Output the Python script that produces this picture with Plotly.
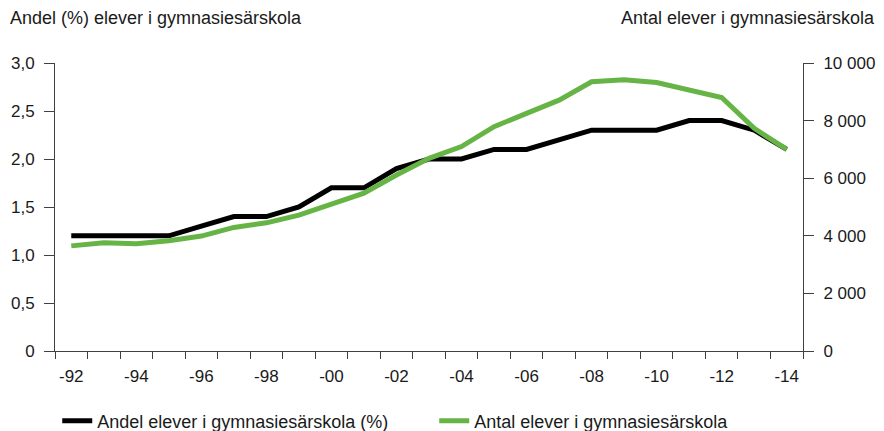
import plotly.graph_objs as go

years = list(range(1992, 2015))
andel = [1.2, 1.2, 1.2, 1.2, 1.3, 1.4, 1.4, 1.5, 1.7, 1.7, 1.9, 2.0,
         2.0, 2.1, 2.1, 2.2, 2.3, 2.3, 2.3, 2.4, 2.4, 2.3, 2.1]
antal = [3650, 3760, 3720, 3830, 3990, 4290, 4450, 4720, 5100, 5480, 6110, 6690,
         7100, 7790, 8250, 8710, 9350, 9420, 9320, 9060, 8800, 7730, 7000]

x_tick_years = list(range(1992, 2015, 2))
x_tick_labels = ['-92', '-94', '-96', '-98', '-00', '-02', '-04',
                 '-06', '-08', '-10', '-12', '-14']
left_ticks = [0, 0.5, 1.0, 1.5, 2.0, 2.5, 3.0]
left_labels = ['0', '0,5', '1,0', '1,5', '2,0', '2,5', '3,0']
right_ticks = [0, 2000, 4000, 6000, 8000, 10000]
right_labels = ['0', '2 000', '4 000', '6 000', '8 000', '10 000']

FONT = 'Liberation Sans'
FS = 17        # tick labels
FS_TEXT = 18   # titles and legend
AXIS_COLOR = '#404040'
TEXT_COLOR = '#1a1a1a'

fig = go.Figure()

fig.add_trace(go.Scatter(
    name='Andel elever i gymnasiesärskola (%)',
    x=years, y=andel, mode='lines', legend='legend',
    line={'color': '#000000', 'width': 5}))

fig.add_trace(go.Scatter(
    name='Antal elever i gymnasiesärskola',
    x=years, y=antal, mode='lines', yaxis='y2', legend='legend2',
    line={'color': '#66b445', 'width': 5}))

boundaries = [y - 0.5 for y in years] + [years[-1] + 0.5]

legend_style = {'yanchor': 'middle', 'xanchor': 'left', 'y': -0.243,
                'font': {'size': FS_TEXT}, 'bgcolor': 'rgba(0,0,0,0)',
                'itemwidth': 30}

# page body has an 8px margin, so the figure is 8px smaller than the window
fig.update_layout(
    width=876, height=423,
    margin={'l': 47, 'r': 81, 't': 55, 'b': 80, 'autoexpand': False},
    plot_bgcolor='white', paper_bgcolor='white',
    font={'family': FONT, 'size': FS, 'color': TEXT_COLOR},
    xaxis={
        'range': [1991.5, 2014.5],
        'tickvals': x_tick_years, 'ticktext': x_tick_labels,
        'ticks': '', 'ticklabelstandoff': 10,
        'showgrid': False, 'zeroline': False,
        'showline': True, 'linecolor': AXIS_COLOR, 'linewidth': 1,
        'minor': {'tickvals': boundaries, 'ticks': 'outside',
                  'ticklen': 7, 'tickcolor': AXIS_COLOR, 'showgrid': False},
        'tickfont': {'size': FS},
    },
    yaxis={
        'range': [0, 3.0],
        'tickvals': left_ticks, 'ticktext': left_labels,
        'ticks': 'outside', 'ticklen': 10, 'tickcolor': AXIS_COLOR,
        'ticklabelstandoff': 6,
        'showgrid': False, 'zeroline': False,
        'showline': True, 'linecolor': AXIS_COLOR, 'linewidth': 1,
        'tickfont': {'size': FS},
    },
    yaxis2={
        'range': [0, 10000], 'overlaying': 'y', 'side': 'right',
        'tickvals': right_ticks, 'ticktext': right_labels,
        'ticks': 'outside', 'ticklen': 10, 'tickcolor': AXIS_COLOR,
        'ticklabelstandoff': 6,
        'showgrid': False, 'zeroline': False,
        'showline': True, 'linecolor': AXIS_COLOR, 'linewidth': 1,
        'tickfont': {'size': FS},
    },
    legend=dict(legend_style, x=0.003),
    legend2=dict(legend_style, x=0.507),
    showlegend=True,
)

fig.add_annotation(text='Andel (%) elever i gymnasiesärskola',
                   xref='paper', yref='paper', x=-0.063, y=1.156,
                   xanchor='left', yanchor='middle', showarrow=False,
                   font={'size': FS_TEXT})
fig.add_annotation(text='Antal elever i gymnasiesärskola',
                   xref='paper', yref='paper', x=1.099, y=1.156,
                   xanchor='right', yanchor='middle', showarrow=False,
                   font={'size': FS_TEXT})

fig.write_html('out.html')
